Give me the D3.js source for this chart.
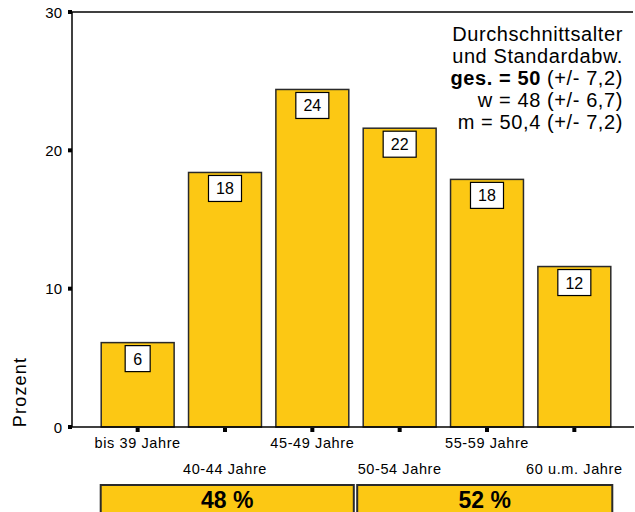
<!DOCTYPE html>
<html><head><meta charset="utf-8">
<script src="https://cdn.jsdelivr.net/npm/d3@7"></script>
<style>body{margin:0;background:#fff}svg{display:block;font-family:"Liberation Sans",Arial,sans-serif}</style>
</head><body><svg id="c" width="635" height="512"></svg>
<script>
const categories = ["bis 39 Jahre","40-44 Jahre","45-49 Jahre","50-54 Jahre","55-59 Jahre","60 u.m. Jahre"];
const values = [6.1, 18.4, 24.4, 21.6, 17.9, 11.6];
const valueLabels = ["6","18","24","22","18","12"];
const yTicks = [0, 10, 20, 30];
const groupLabels = ["48 %", "52 %"];
const groupSpans = [[0, 2], [3, 5]];
const noteLines = [
  [{t:"Durchschnittsalter", b:false}],
  [{t:"und Standardabw.", b:false}],
  [{t:"ges. = 50", b:true},{t:" (+/- 7,2)", b:false}],
  [{t:"w = 48 (+/- 6,7)", b:false}],
  [{t:"m = 50,4 (+/- 7,2)", b:false}]
];

const fill = "#FCC814", stroke = "#2a2a2a";
const svg = d3.select("#c");
const x = d3.scaleBand().domain(categories).range([94, 618]).paddingInner(0.165).paddingOuter(0.0825);
const y = d3.scaleLinear().domain([0, 30]).range([427, 12]);

svg.append("line").attr("x1",72).attr("x2",633).attr("y1",y(30)).attr("y2",y(30)).attr("stroke","#000").attr("stroke-width",1.5);

svg.selectAll("rect.bar").data(values).join("rect")
  .attr("x",(d,i)=>x(categories[i])).attr("y",d=>y(d))
  .attr("width",x.bandwidth()).attr("height",d=>y(0)-y(d))
  .attr("fill",fill).attr("stroke",stroke).attr("stroke-width",1.5);

svg.append("line").attr("x1",72).attr("x2",634).attr("y1",y(0)).attr("y2",y(0)).attr("stroke","#000").attr("stroke-width",1.5);
svg.append("line").attr("x1",72).attr("x2",72).attr("y1",y(30)).attr("y2",y(0)).attr("stroke","#000").attr("stroke-width",1.5);

values.forEach((d,i)=>{
  const cx = x(categories[i]) + x.bandwidth()/2;
  const w = valueLabels[i].length > 1 ? 33 : 25;
  const top = y(d) + 3;
  svg.append("rect").attr("x",cx-w/2).attr("y",top).attr("width",w).attr("height",26)
    .attr("fill","#fff").attr("stroke","#000").attr("stroke-width",1.2);
  svg.append("text").attr("x",cx).attr("y",top+19).attr("text-anchor","middle")
    .attr("font-size",16).attr("fill","#000").text(valueLabels[i]);
});

yTicks.forEach(t=>{
  svg.append("rect").attr("x",68).attr("y",y(t)-2).attr("width",4).attr("height",4).attr("fill","#000");
  svg.append("text").attr("x",62).attr("y",y(t)+5.5).attr("text-anchor","end").attr("font-size",15).attr("fill","#000").text(t);
});
svg.append("text").attr("transform",`translate(26,${392}) rotate(-90)`).attr("text-anchor","middle")
  .attr("font-size",18).attr("letter-spacing",1.2).attr("fill","#000").text("Prozent");

categories.forEach((c,i)=>{
  const cx = x(c) + x.bandwidth()/2;
  svg.append("rect").attr("x",cx-2).attr("y",y(0)+1).attr("width",4).attr("height",4).attr("fill","#000");
  svg.append("text").attr("x",cx).attr("y", i%2===0 ? 448 : 474).attr("text-anchor","middle")
    .attr("font-size",14.5).attr("letter-spacing",0.6).attr("fill","#000").text(c);
});

groupLabels.forEach((g,i)=>{
  const [a,b] = groupSpans[i];
  const x0 = i===0 ? x(categories[a]) - 0.5 : x(categories[a]) - 6;
  const x1 = i===0 ? x(categories[b]) + x.bandwidth() + 5 : x(categories[b]) + x.bandwidth() + 1.5;
  svg.append("rect").attr("x",x0).attr("y",485).attr("width",x1-x0).attr("height",40)
    .attr("fill",fill).attr("stroke",stroke).attr("stroke-width",2);
  svg.append("text").attr("x",(x0+x1)/2).attr("y",508).attr("text-anchor","middle")
    .attr("font-size",23).attr("font-weight","bold").attr("fill","#000").text(g);
});

noteLines.forEach((ln,i)=>{
  const t = svg.append("text").attr("x",623).attr("y",41+i*22).attr("text-anchor","end")
    .attr("font-size",20).attr("letter-spacing",0.6).attr("fill","#000");
  ln.forEach(s=>t.append("tspan").attr("font-weight",s.b?"bold":"normal").text(s.t));
});
</script></body></html>
